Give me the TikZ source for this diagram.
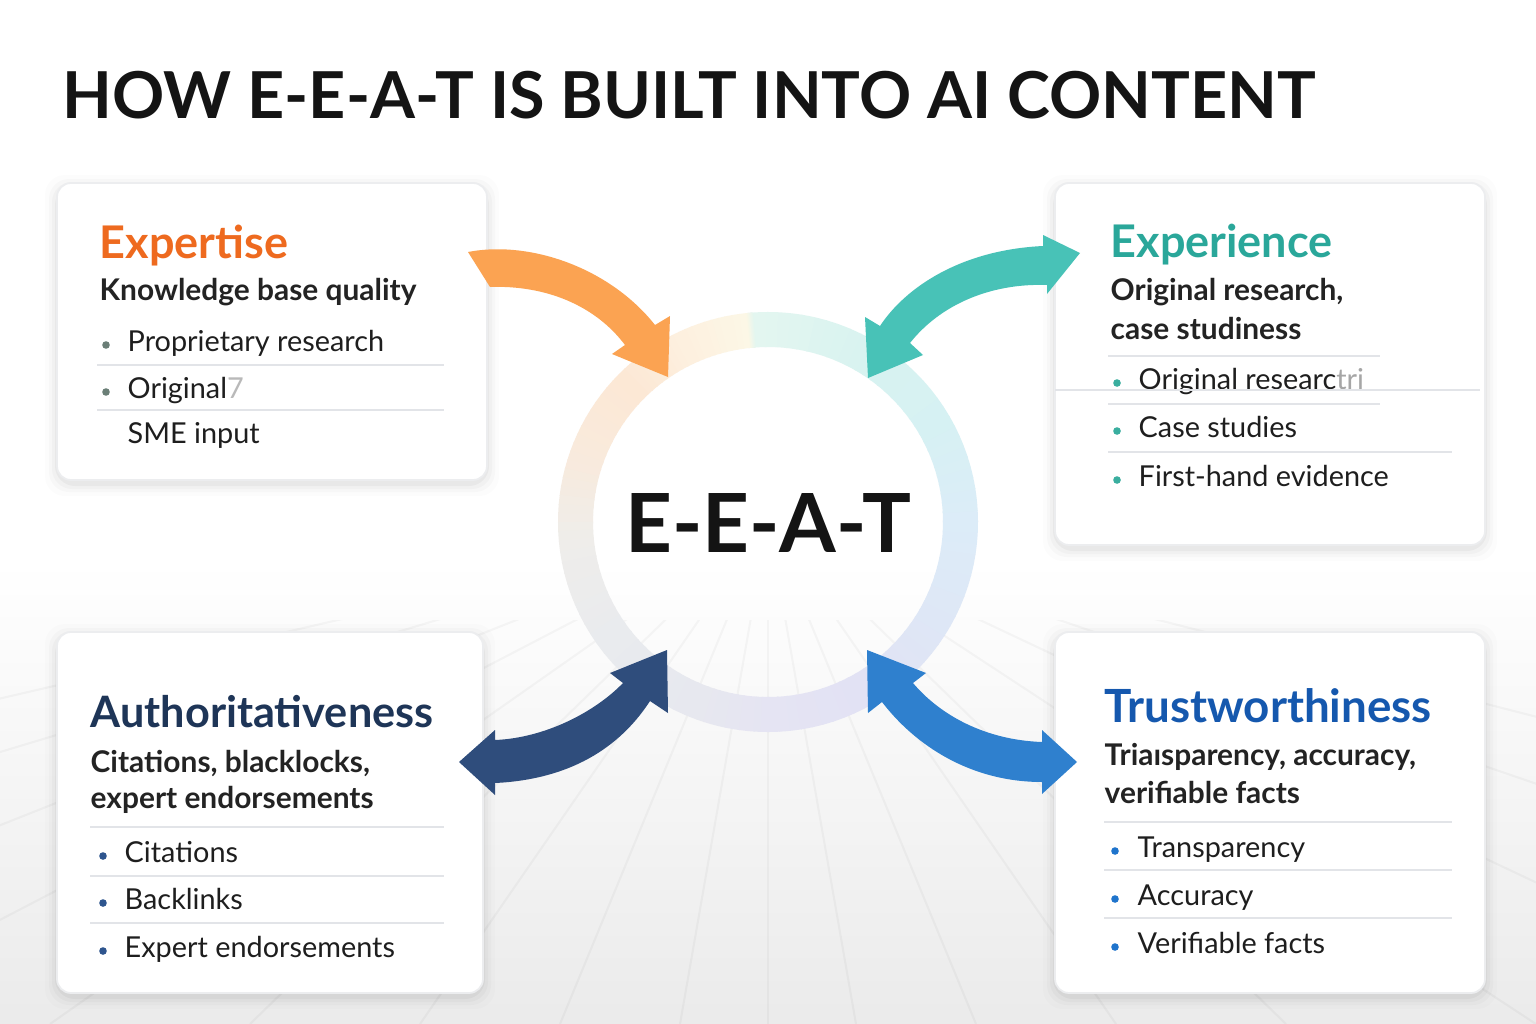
\documentclass[tikz,border=0pt]{standalone}
\usepackage{fontspec}
\setmainfont{Lato}
\usetikzlibrary{calc}
\definecolor{titlecol}{HTML}{141414}
\definecolor{cExp}{HTML}{EE6A1F}
\definecolor{cExq}{HTML}{2AA79A}
\definecolor{cAut}{HTML}{1E3557}
\definecolor{cTru}{HTML}{1558AE}
\definecolor{subtext}{HTML}{232323}
\definecolor{itemtext}{HTML}{1E1E1E}
\definecolor{divcol}{HTML}{E2E4E8}
\definecolor{cardline}{HTML}{ECEDEF}
\definecolor{bulA}{HTML}{6B7F77}
\definecolor{bulB}{HTML}{3AAE9F}
\definecolor{bulC}{HTML}{2E558E}
\definecolor{bulD}{HTML}{1F74CC}
\definecolor{arO}{HTML}{FBA352}
\definecolor{arT}{HTML}{48C2B7}
\definecolor{arN}{HTML}{2F4D7C}
\definecolor{arB}{HTML}{2F80CE}
\definecolor{ra}{HTML}{DCECF8}
\definecolor{rb}{HTML}{D6F1F3}
\definecolor{rc}{HTML}{D8F3F0}
\definecolor{rd}{HTML}{E4F6F0}
\definecolor{re}{HTML}{FCF7E6}
\definecolor{rf}{HTML}{FDF0DF}
\definecolor{rg}{HTML}{FCE8D5}
\definecolor{rh}{HTML}{F9EADC}
\definecolor{ri}{HTML}{EFEDEA}
\definecolor{rj}{HTML}{E9EBEE}
\definecolor{rk}{HTML}{E7E8EF}
\definecolor{rl}{HTML}{E5E4F3}
\definecolor{rm}{HTML}{E2E2F4}
\definecolor{rn}{HTML}{DEE7F6}
\newcommand\mycard[4]{%
  \foreach \i/\op in {12/0.012,8/0.018,5/0.025,2/0.035}{%
    \fill[black,opacity=\op,rounded corners=0.2cm] ({#1-\i},{#2-\i+4}) rectangle ({#3+\i},{#4+\i+4});}
  \fill[white,rounded corners=0.14cm] (#1,#2) rectangle (#3,#4);
  \draw[cardline,line width=0.5pt,rounded corners=0.14cm] (#1,#2) rectangle (#3,#4);
}
\tikzset{
  heading/.style={anchor=base west,inner sep=0pt,font=\bfseries\fontsize{12.8}{14}\selectfont},
  subt/.style={anchor=base west,inner sep=0pt,font=\bfseries\fontsize{8.5}{9}\selectfont,text=subtext},
  item/.style={anchor=base west,inner sep=0pt,font=\fontsize{8.2}{9}\selectfont,text=itemtext},
  divider/.style={draw=divcol,line width=0.45pt},
  bul/.style={radius=0.038cm},
}
\begin{document}
\begin{tikzpicture}[x=0.01cm,y=-0.01cm]
\useasboundingbox (0,0) rectangle (1536,1024);
\fill[white] (0,0) rectangle (1536,1024);
% floor
\shade[top color=white,bottom color=black!8] (0,560) rectangle (1536,1024);
\begin{scope}
\clip (0,620) rectangle (1536,1024);
\foreach \xb in {-1400,-900,-500,-200,50,250,420,560,680,768,856,976,1116,1286,1536,1836,2236,2736}{
  \draw[black,opacity=0.03,line width=0.6pt] (768,520) -- (\xb,1024);}
\end{scope}

% title
\node[anchor=base west,inner sep=0pt,font=\bfseries\fontsize{18.4}{22}\selectfont,text=titlecol] (title) at (62,118) {HOW E-E-A-T IS BUILT INTO AI CONTENT};

% cards
\mycard{57}{183}{487}{480}
\mycard{1055}{183}{1485}{545}
\mycard{57}{632}{483}{993}
\mycard{1055}{632}{1485}{993}

% ring
\begin{scope}[shift={(768,522)},x=0.01cm,y=0.01cm]
\foreach \a/\b/\ca/\cb in {0/30/ra/rb,30/60/rb/rc,60/94/rc/rd,94/96/rd/re,96/115/re/rf,115/135/rf/rg,135/160/rg/rh,160/185/rh/ri,185/215/ri/rj,215/250/rj/rk,250/270/rk/rl,270/300/rl/rm,300/330/rm/rn,330/360/rn/ra}{
  \foreach \t in {0,...,9}{
    \pgfmathsetmacro\s{\a+(\b-\a)*\t/10}
    \pgfmathsetmacro\e{\a+(\b-\a)*(\t+1)/10+0.4}
    \pgfmathtruncatemacro\p{\t*10+5}
    \draw[line width=0.35cm,color=\cb!\p!\ca] (\s:192.5) arc[start angle=\s,end angle=\e,radius=192.5];
  }
}
\end{scope}
\node[font=\bfseries\fontsize{23.2}{26}\selectfont,text=titlecol,inner sep=0pt] (eeat) at (768,523) {E-E-A-T};

% arrows
\coordinate (oTail) at (479,270);
\coordinate (oTip) at (668,377);
\fill[arO] (490,287) -- (468,252) .. controls (530,240) and (610,268) .. (655,325)
  -- (670,316) -- (oTip) -- (612,354) -- (625,345)
  .. controls (595,305) and (545,285) .. (490,287) -- cycle;

\coordinate (tTipA) at (868,378);
\coordinate (tTipB) at (1080,253);
\fill[arT] (880,326) .. controls (905,288) and (960,250) .. (1043,246)
  -- (1043,235) -- (tTipB) -- (1047,294) -- (1047,285)
  .. controls (990,283) and (940,305) .. (910,343)
  -- (923,355) -- (tTipA) -- (865,317) -- cycle;

\coordinate (nTipA) at (459,762);
\coordinate (nTipB) at (667,650);
\fill[arN] (495,740) .. controls (545,738) and (595,712) .. (623,683)
  -- (610,673) -- (nTipB) -- (668,713) -- (650,701)
  .. controls (615,755) and (560,780) .. (495,783)
  -- (495,795) -- (nTipA) -- (495,730) -- cycle;

\coordinate (bTipA) at (867,650);
\coordinate (bTipB) at (1077,762);
\fill[arB] (913,683) .. controls (940,715) and (985,740) .. (1042,742)
  -- (1042,730) -- (bTipB) -- (1042,794) -- (1042,782)
  .. controls (970,782) and (915,745) .. (882,702)
  -- (868,713) -- (bTipA) -- (926,673) -- cycle;

% Expertise card
\node[heading,text=cExp] (h1) at (99,258) {Expertise};
\node[subt] (s1) at (99,300) {Knowledge base quality};
\fill[bulA] (106,345) circle[bul];
\node[item] (i11) at (127,351) {Proprietary research};
\draw[divider] (97,365) -- (444,365);
\fill[bulA] (106,392) circle[bul];
\node[item] (i12) at (127,398) {Original{\color{gray!55}7}};
\draw[divider] (97,410) -- (444,410);
\node[item] (i13) at (127,443) {SME input};

% Experience card
\node[heading,text=cExq] (h2) at (1110,257) {Experience};
\node[subt] (s2a) at (1110,300) {Original research,};
\node[subt] (s2b) at (1110,339) {case studiness};
\draw[divider] (1108,356) -- (1380,356);
\fill[bulB] (1117,383) circle[bul];
\node[item] (i21) at (1138,389) {Original researc{\color{gray!70}tri}};
\draw[divider] (1055,390) -- (1480,390);
\draw[divider] (1108,404) -- (1380,404);
\fill[bulB] (1117,431) circle[bul];
\node[item] (i22) at (1138,437) {Case studies};
\draw[divider] (1108,452) -- (1452,452);
\fill[bulB] (1117,480) circle[bul];
\node[item] (i23) at (1138,486) {First-hand evidence};

% Authoritativeness card
\node[heading,text=cAut,font=\bfseries\fontsize{12.3}{14}\selectfont] (h3) at (90,727) {Authoritativeness};
\node[subt] (s3a) at (90,772) {Citations, blacklocks,};
\node[subt] (s3b) at (90,808) {expert endorsements};
\draw[divider] (90,827) -- (444,827);
\fill[bulC] (103,856) circle[bul];
\node[item] (i31) at (124,862) {Citations};
\draw[divider] (90,876) -- (444,876);
\fill[bulC] (103,903) circle[bul];
\node[item] (i32) at (124,909) {Backlinks};
\draw[divider] (90,923) -- (444,923);
\fill[bulC] (103,951) circle[bul];
\node[item] (i33) at (124,957) {Expert endorsements};

% Trustworthiness card
\node[heading,text=cTru,font=\bfseries\fontsize{13}{14}\selectfont] (h4) at (1104,722) {Trustworthiness};
\node[subt] (s4a) at (1104,765) {Triaısparency, accuracy,};
\node[subt] (s4b) at (1104,803) {verifiable facts};
\draw[divider] (1104,822) -- (1452,822);
\fill[bulD] (1115,851) circle[bul];
\node[item] (i41) at (1137,857) {Transparency};
\draw[divider] (1104,870) -- (1452,870);
\fill[bulD] (1115,899) circle[bul];
\node[item] (i42) at (1137,905) {Accuracy};
\draw[divider] (1104,918) -- (1452,918);
\fill[bulD] (1115,947) circle[bul];
\node[item] (i43) at (1137,953) {Verifiable facts};
\end{tikzpicture}
\end{document}
